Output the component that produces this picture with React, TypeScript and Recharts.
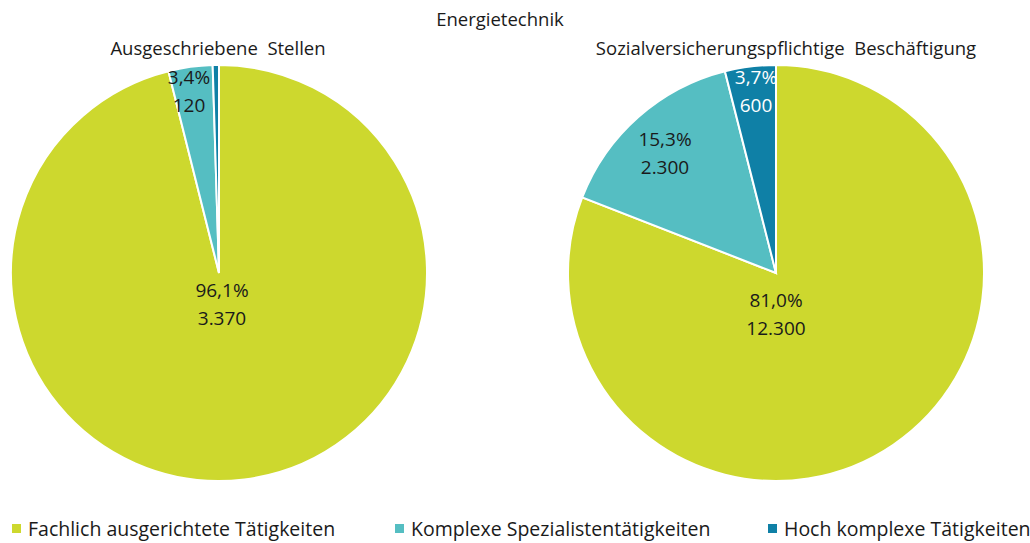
import React from 'react';
import { PieChart, Pie, Cell, Legend } from 'recharts';

const categories = [
  'Fachlich ausgerichtete Tätigkeiten',
  'Komplexe Spezialistentätigkeiten',
  'Hoch komplexe Tätigkeiten',
];
const stellenValues = [3370, 120, 17];
const stellenPercent = ['96,1%', '3,4%', ''];
const stellenLabels = ['3.370', '120', ''];
const beschValues = [12300, 2300, 600];
const beschPercent = ['81,0%', '15,3%', '3,7%'];
const beschLabels = ['12.300', '2.300', '600'];

const COLORS = ['#CDD82E', '#55BEC2', '#0F80A6'];
const LABEL_COLORS = ['#1a1a1a', '#1a1a1a', '#ffffff'];
const FONT = '"Open Sans", Lato, sans-serif';
const TITLE_FS = 18.5;
const LABEL_FS = 19;
const LEGEND_FS = 19.5;

// label block offsets from the pie centre (Excel best-fit placement)
const stellenOffsets = [[3, 31], [-30, -182], [0, 0]];
const beschOffsets = [[0, 41], [-111, -120], [-20, -182]];

const stellenData = categories.map((name, i) => ({
  name,
  value: stellenValues[i],
  pct: stellenPercent[i],
  label: stellenLabels[i],
}));
const beschData = categories.map((name, i) => ({
  name,
  value: beschValues[i],
  pct: beschPercent[i],
  label: beschLabels[i],
}));

function makeLabel(offsets: number[][]) {
  return (props: any) => {
    const { cx, cy, index, payload } = props;
    const p = payload?.payload ?? payload;
    if (!p || !p.pct) return null;
    const [dx, dy] = offsets[index];
    const x = cx + dx;
    const y = cy + dy;
    return (
      <text
        x={x}
        y={y}
        textAnchor="middle"
        fill={LABEL_COLORS[index]}
        fontSize={LABEL_FS}
        fontFamily={FONT}
      >
        <tspan x={x} dy={-14} dominantBaseline="central">{p.pct}</tspan>
        <tspan x={x} dy={28} dominantBaseline="central">{p.label}</tspan>
      </text>
    );
  };
}

function LegendContent() {
  const xs = [12, 395, 768];
  return (
    <div style={{ position: 'relative', height: 30, fontFamily: FONT, fontSize: LEGEND_FS, color: '#1a1a1a' }}>
      {categories.map((c, i) => (
        <div
          key={c}
          style={{ position: 'absolute', left: xs[i], top: 0, display: 'flex', alignItems: 'center', whiteSpace: 'nowrap' }}
        >
          <span style={{ width: 9, height: 9, background: COLORS[i], display: 'inline-block', marginRight: 7 }} />
          <span>{c}</span>
        </div>
      ))}
    </div>
  );
}

export default function App() {
  return (
    <div style={{ position: 'absolute', left: 0, top: 0, width: 1030, height: 543, background: '#fff' }}>
      <PieChart width={1030} height={543} margin={{ top: 0, right: 0, bottom: 0, left: 0 }}>
        <text x={500} y={18} textAnchor="middle" dominantBaseline="central" fontSize={TITLE_FS} fontFamily={FONT} fill="#1a1a1a">
          Energietechnik
        </text>
        <text x={218} y={47} textAnchor="middle" dominantBaseline="central" fontSize={TITLE_FS} fontFamily={FONT} fill="#1a1a1a" style={{ whiteSpace: 'pre' }}>
          {'Ausgeschriebene  Stellen'}
        </text>
        <text x={786} y={47} textAnchor="middle" dominantBaseline="central" fontSize={TITLE_FS} fontFamily={FONT} fill="#1a1a1a" style={{ whiteSpace: 'pre' }}>
          {'Sozialversicherungspflichtige  Beschäftigung'}
        </text>
        <Pie
          data={stellenData}
          dataKey="value"
          nameKey="name"
          cx={219}
          cy={273}
          outerRadius={208}
          startAngle={90}
          endAngle={-270}
          stroke="#fff"
          strokeWidth={2}
          label={makeLabel(stellenOffsets)}
          labelLine={false}
          isAnimationActive={false}
        >
          {stellenData.map((d, i) => (
            <Cell key={d.name} fill={COLORS[i]} />
          ))}
        </Pie>
        <Pie
          data={beschData}
          dataKey="value"
          nameKey="name"
          cx={776}
          cy={273}
          outerRadius={208}
          startAngle={90}
          endAngle={-270}
          stroke="#fff"
          strokeWidth={2}
          label={makeLabel(beschOffsets)}
          labelLine={false}
          isAnimationActive={false}
        >
          {beschData.map((d, i) => (
            <Cell key={d.name} fill={COLORS[i]} />
          ))}
        </Pie>
        <Legend
          verticalAlign="bottom"
          align="left"
          wrapperStyle={{ left: 0, top: 515, width: 1030 }}
          content={() => <LegendContent />}
        />
      </PieChart>
    </div>
  );
}
